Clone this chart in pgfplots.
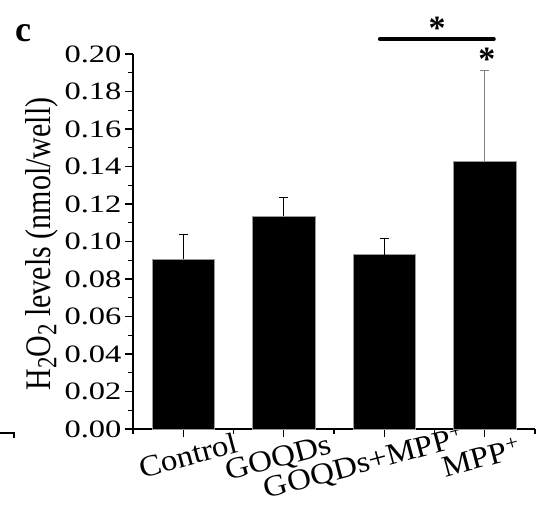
\documentclass[border=0pt]{standalone}
\usepackage{graphicx}
\usepackage{pgfplots}
\pgfplotsset{compat=1.18}
\usepackage{fontspec}
\setmainfont{Liberation Serif}
\newfontfamily\tickfont{Liberation Serif}[FakeStretch=1.3]
\newfontfamily\labfont{Liberation Serif}[FakeStretch=1.1]
\newcommand{\sub}[1]{\raisebox{-0.35ex}{\fontsize{23}{23}\selectfont #1}}
\begin{document}
\begin{tikzpicture}
\useasboundingbox (-133pt,-89pt) rectangle (409pt,429pt);
\begin{axis}[
  scale only axis, width=402pt, height=375pt,
  xmin=-0.5, xmax=3.5, ymin=0, ymax=0.2,
  axis x line*=bottom, axis y line*=left,
  axis line style={line width=1.6pt, -},
  xtick={0,1,2,3},
  xticklabels={Control,GOQDs\hspace*{21pt},GOQDs+MPP\textsuperscript{+}\hspace*{52pt},MPP\textsuperscript{+}\hspace*{17pt}},
  minor xtick={-0.5,0.5,1.5,2.5,3.5},
  ytick={0,0.02,0.04,0.06,0.08,0.10,0.12,0.14,0.16,0.18,0.20},
  minor ytick={0.01,0.03,0.05,0.07,0.09,0.11,0.13,0.15,0.17,0.19},
  tick align=outside, major tick length=8pt, minor tick length=5pt,
  every tick/.style={line width=1.3pt, black},
  yticklabel style={/pgf/number format/fixed, /pgf/number format/fixed zerofill,
    /pgf/number format/precision=2, /pgf/number format/assume math mode=true,
    font=\tickfont\fontsize{25}{28}\selectfont},
  xticklabel style={rotate=15, anchor=north, font=\labfont\fontsize{30}{32}\selectfont, inner sep=1pt, yshift=-7pt},
  ylabel={\scalebox{1}[1.2]{H\sub{2}O\sub{2} levels (nmol/well)}},
  ylabel style={at={(rel axis cs:-0.205,0.493)}, anchor=base, rotate=0, font=\fontsize{30}{32}\selectfont},
  clip=false,
]
\addplot[ybar, bar shift=0pt, bar width=0.62, fill=black, draw=gray!80, line width=0.6pt,
  error bars/.cd, y dir=plus, y explicit, error mark=|,
  error bar style={line width=1.1pt, black},
  error mark options={line width=1.1pt, black, mark size=4.5pt}]
  coordinates {
  (0,0.0904) +- (0,0.0131)
  (1,0.1134) +- (0,0.0101)
  (2,0.0930) +- (0,0.0086)
  };
\addplot[ybar, bar shift=0pt, bar width=0.62, fill=black, draw=gray!80, line width=0.6pt,
  error bars/.cd, y dir=plus, y explicit, error mark=|,
  error bar style={line width=1.1pt, gray},
  error mark options={line width=1.1pt, gray, mark size=4.5pt}]
  coordinates {
  (3,0.1429) +- (0,0.0481)
  };
\draw[line width=4pt, line cap=round] (axis cs:1.957,0.208) -- (axis cs:3.09,0.208);
\node[anchor=base, inner sep=0pt, font=\bfseries\fontsize{34}{34}\selectfont] at (axis cs:2.525,0.2077) {*};
\node[anchor=base, inner sep=0pt, font=\bfseries\fontsize{34}{34}\selectfont] at (axis cs:3.02,0.191) {*};
\node[font=\bfseries\fontsize{36}{36}\selectfont, inner sep=0pt] at (rel axis cs:-0.2736,1.056) {c};
\end{axis}
\draw[line width=1.5pt] (-133pt,-4pt) -- (-119pt,-4pt) -- (-119pt,-9pt);
\end{tikzpicture}
\end{document}
